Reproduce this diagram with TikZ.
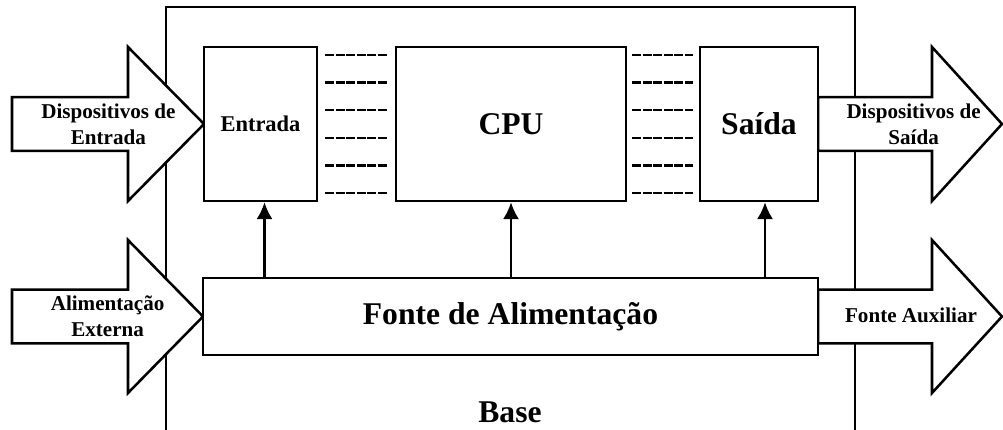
\documentclass[tikz,border=0pt]{standalone}
\usepackage{fontspec}
\setmainfont{Liberation Serif}
\usetikzlibrary{arrows.meta}

\tikzset{
	bloco/.style={draw, line width=1.8pt, fill=white, inner sep=0pt, font=\fontsize{22.5}{26}\selectfont\bfseries},
	seta/.style={draw, line width=1.8pt, fill=white, line join=miter},
	rotulo/.style={align=center, inner sep=0pt, font=\fontsize{15}{18.5}\selectfont\bfseries},
	barramento/.style={dash pattern=on 6.4pt off 1.1pt},
	conector/.style={line width=1.6pt, -{Latex[length=4.2mm, width=4mm]}}
}

\begin{document}
\begin{tikzpicture}
	\useasboundingbox (0,0) rectangle (25.075,10.725);

	% base
	\draw[line width=1.7pt] (4.15,-0.2) -- (4.15,10.55) -- (21.375,10.55) -- (21.375,-0.2);
	\node[font=\fontsize{22.5}{26}\selectfont\bfseries, anchor=base] (base) at (12.75,0.175) {Base};

	% setas largas
	\draw[seta] (0.3,8.295) -- (3.2,8.295) -- (3.2,9.55) -- (5.1,7.625) -- (3.2,5.7) -- (3.2,6.955) -- (0.3,6.955) -- cycle;
	\draw[seta] (0.3,3.4825) -- (3.2,3.4825) -- (3.2,4.725) -- (5.075,2.8125) -- (3.2,0.9) -- (3.2,2.1425) -- (0.3,2.1425) -- cycle;
	\draw[seta] (20.45,8.295) -- (23.3,8.295) -- (23.3,9.55) -- (25.05,7.625) -- (23.3,5.7) -- (23.3,6.955) -- (20.45,6.955) -- cycle;
	\draw[seta] (20.45,3.4825) -- (23.3,3.4825) -- (23.3,4.725) -- (25.05,2.8125) -- (23.3,0.9) -- (23.3,2.1425) -- (20.45,2.1425) -- cycle;

	\node[rotulo] (dispentrada) at (2.71,7.625) {Dispositivos de\\Entrada};
	\node[rotulo] (alimext) at (2.69,2.8125) {Alimentação\\Externa};
	\node[rotulo] (dispsaida) at (22.84,7.625) {Dispositivos de\\Saída};
	\node[rotulo] (auxiliar) at (22.775,2.83) {Fonte Auxiliar};

	% blocos
	\node[bloco, minimum width=2.825cm, minimum height=3.85cm, font=\fontsize{16}{19}\selectfont\bfseries] (entrada) at (6.5125,7.625) {Entrada};
	\node[bloco, minimum width=5.75cm, minimum height=3.85cm] (cpu) at (12.775,7.625) {CPU};
	\node[bloco, minimum width=2.95cm, minimum height=3.85cm] (saida) at (18.975,7.625) {Saída};
	\node[bloco, minimum width=15.375cm, minimum height=1.925cm] (fonte) at (12.7625,2.8125) {Fonte de Alimentação};

	\foreach \i/\w in {0/1.9,1/1.7,2/1.1,3/1.1,4/1.7,5/2.0}
	{
		\draw[barramento, line width=\w pt] (8.125,9.35-\i*0.69) -- (9.675,9.35-\i*0.69);
		\draw[barramento, line width=\w pt] (15.8,9.35-\i*0.69) -- (17.325,9.35-\i*0.69);
	}

	\draw[conector] ([xshift=1mm]entrada.south |- fonte.north) -- ([xshift=1mm]entrada.south);
	\draw[conector] (cpu.south |- fonte.north) -- (cpu.south);
	\draw[conector] ([xshift=1.5mm]saida.south |- fonte.north) -- ([xshift=1.5mm]saida.south);
\end{tikzpicture}
\end{document}
